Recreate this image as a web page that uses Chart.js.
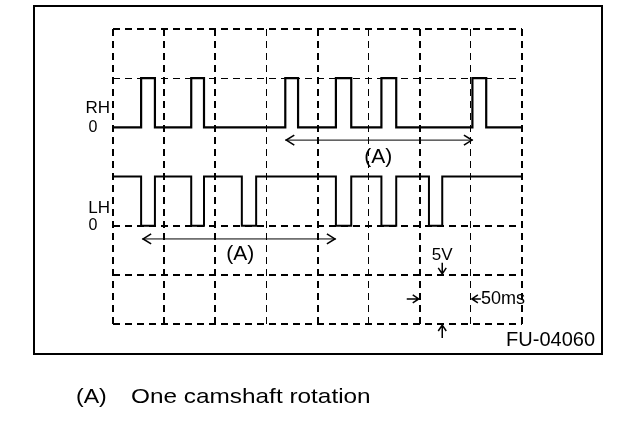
<!DOCTYPE html>
<html>
<head>
<meta charset="utf-8">
<script src="https://cdn.jsdelivr.net/npm/chart.js@4.4.0/dist/chart.umd.min.js"></script>
<style>
  html, body { margin: 0; padding: 0; background: #fff; }
  canvas { display: block; }
</style>
</head>
<body>
<canvas id="wave" width="640" height="426"></canvas>
<script>
// eixo do tempo em divisoes (50 ms cada), tensao em divisoes (5 V cada)
const timeDivs = 8;
const voltDivs = 6;

// sensor RH: bordas dos pulsos (div), repouso em 4, pulsos ate 5
const rhEdges = [0.55, 0.82, 1.53, 1.78, 3.37, 3.62, 4.36, 4.66, 5.25, 5.54, 7.03, 7.30];
const rhLevels = [4, 5];
// sensor LH: repouso em 3, pulsos descem ate 2
const lhEdges = [0.55, 0.82, 1.53, 1.78, 2.52, 2.80, 4.36, 4.66, 5.25, 5.54, 6.18, 6.44];
const lhLevels = [3, 2];

// (A) uma rotacao do eixo de comando: inicio, fim, altura
const rhSpan = [3.37, 7.04, 3.74];
const lhSpan = [0.57, 4.36, 1.73];

const labels = ['RH', 'LH', '0', '(A)', '5V', '50ms', 'FU-04060', 'One camshaft rotation'];

// estilo das linhas da grade (grossa / fina)
const xGridWidth = [2, 2, 2, 1, 2, 1, 2, 1, 2];
const yGridWidth = [2, 2, 2, 0, 0, 1, 2];

function buildTrace(edges, levels) {
    let cur = 0;
    const pts = [{ x: 0, y: levels[0] }];
    edges.forEach(e => {
        pts.push({ x: e, y: levels[cur] });
        cur = 1 - cur;
        pts.push({ x: e, y: levels[cur] });
    });
    pts.push({ x: timeDivs, y: levels[cur] });
    return pts;
}

const FONT = "'Liberation Sans', Arial, sans-serif";

function text(ctx, str, x, y, size, align, sx) {
    ctx.save();
    ctx.font = size + 'px ' + FONT;
    ctx.fillStyle = '#000';
    ctx.textBaseline = 'middle';
    ctx.textAlign = align || 'left';
    ctx.translate(x, y);
    ctx.scale(sx || 1, 1);
    ctx.fillText(str, 0, 0);
    ctx.restore();
}

function chevronArrow(ctx, x1, x2, y) {
    ctx.save();
    ctx.strokeStyle = '#000';
    ctx.lineWidth = 1;
    ctx.beginPath();
    ctx.moveTo(x1, y); ctx.lineTo(x2, y);
    ctx.stroke();
    ctx.lineWidth = 1.6;
    ctx.beginPath();
    ctx.moveTo(x1 + 9, y - 5); ctx.lineTo(x1 + 1, y); ctx.lineTo(x1 + 9, y + 5);
    ctx.moveTo(x2 - 9, y - 5); ctx.lineTo(x2 - 1, y); ctx.lineTo(x2 - 9, y + 5);
    ctx.stroke();
    ctx.restore();
}

// seta pequena, de (x0,y0) ate a ponta (x1,y1)
function smallArrow(ctx, x0, y0, x1, y1) {
    const a = Math.atan2(y1 - y0, x1 - x0);
    ctx.save();
    ctx.strokeStyle = '#000';
    ctx.lineWidth = 1.5;
    ctx.beginPath();
    ctx.moveTo(x0, y0); ctx.lineTo(x1, y1);
    ctx.moveTo(x1 - 6 * Math.cos(a) + 4 * Math.sin(a), y1 - 6 * Math.sin(a) - 4 * Math.cos(a));
    ctx.lineTo(x1, y1);
    ctx.lineTo(x1 - 6 * Math.cos(a) - 4 * Math.sin(a), y1 - 6 * Math.sin(a) + 4 * Math.cos(a));
    ctx.stroke();
    ctx.restore();
}

const annotations = {
    id: 'annotations',
    afterDraw(chart) {
        const ctx = chart.ctx;
        const xs = chart.scales.x, ys = chart.scales.y;
        const px = v => xs.getPixelForValue(v);
        const py = v => ys.getPixelForValue(v);

        // moldura externa
        ctx.save();
        ctx.strokeStyle = '#000';
        ctx.lineWidth = 2;
        ctx.strokeRect(34, 6, 568, 348);
        ctx.restore();

        // rotulos dos canais
        text(ctx, labels[0], px(0) - 3, py(4.39), 17, 'right');
        text(ctx, labels[2], px(0) - 20, py(4.0), 16, 'center');
        text(ctx, labels[1], px(0) - 3, py(2.36), 17, 'right');
        text(ctx, labels[2], px(0) - 20, py(2.0), 16, 'center');

        // setas (A)
        chevronArrow(ctx, px(rhSpan[0]), px(rhSpan[1]), py(rhSpan[2]));
        chevronArrow(ctx, px(lhSpan[0]), px(lhSpan[1]), py(lhSpan[2]));
        text(ctx, labels[3], px(5.19), py(3.40), 21, 'center');
        text(ctx, labels[3], px(2.49), py(1.42), 21, 'center');

        // escala: 5V por divisao, 50ms por divisao
        text(ctx, labels[4], px(6.44), py(1.39), 17, 'center');
        smallArrow(ctx, px(6.44), py(1) - 12, px(6.44), py(1) - 1);
        smallArrow(ctx, px(6.44), py(0) + 14, px(6.44), py(0) + 1);
        smallArrow(ctx, px(6) - 13, py(0.51), px(6) - 1, py(0.51));
        smallArrow(ctx, px(7) + 10, py(0.51), px(7) + 1, py(0.51));
        text(ctx, labels[5], px(7) + 10, py(0.51), 18, 'left');

        text(ctx, labels[6], 595, 340, 20, 'right');

        // legenda
        text(ctx, labels[3], 76, 397, 21, 'left', 1.1);
        text(ctx, labels[7], 131, 397, 21, 'left', 1.16);
    }
};

const gridScale = (max, widths) => ({
    type: 'linear',
    min: 0,
    max: max,
    ticks: { display: false, stepSize: 1 },
    grid: {
        drawTicks: false,
        color: '#000',
        lineWidth: c => widths[c.index] || 0
    },
    border: { display: false, dash: [7, 5] }
});

new Chart(document.getElementById('wave'), {
    type: 'line',
    data: {
        datasets: [
            {
                label: 'RH',
                data: buildTrace(rhEdges, rhLevels),
                borderColor: '#000',
                borderWidth: 2.2,
                pointRadius: 0,
                tension: 0
            },
            {
                label: 'LH',
                data: buildTrace(lhEdges, lhLevels),
                borderColor: '#000',
                borderWidth: 2,
                pointRadius: 0,
                tension: 0
            }
        ]
    },
    options: {
        responsive: false,
        animation: false,
        layout: { padding: { left: 113, right: 118, top: 29, bottom: 102 } },
        plugins: { legend: { display: false }, tooltip: { enabled: false } },
        scales: {
            x: gridScale(timeDivs, xGridWidth),
            y: gridScale(voltDivs, yGridWidth)
        }
    },
    plugins: [annotations]
});
</script>
</body>
</html>
